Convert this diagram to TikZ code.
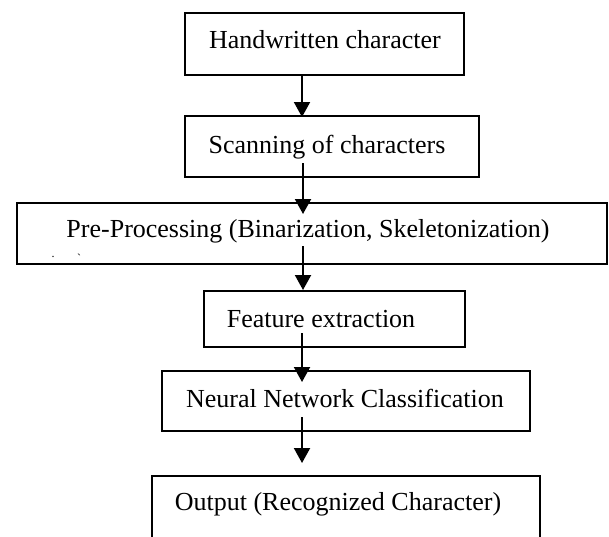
\documentclass[tikz,border=0pt]{standalone}
\usepackage{fontspec}
\setmainfont{Liberation Serif}
\usetikzlibrary{arrows.meta}
\tikzset{
  box/.style={draw=black, line width=1.6pt, rectangle, inner sep=0pt},
  lbl/.style={anchor=base, inner sep=0pt, font=\fontsize{26}{30}\selectfont},
  flow/.style={line width=2pt, -{Triangle[length=15pt,width=16pt]}},
  speck/.style={anchor=base, inner sep=0pt, font=\fontsize{12}{14}\selectfont}
}
\begin{document}
\begin{tikzpicture}[x=1pt,y=-1pt]
\useasboundingbox (0,0) rectangle (609,536);
\clip (0,0) rectangle (609,536);
\fill[white] (0,0) rectangle (609,536);
% boxes
\node[box, minimum width=279pt, minimum height=62pt] (b1) at (324.5,44) {};
\node[box, minimum width=294pt, minimum height=61pt] (b2) at (332,146.5) {};
\node[box, minimum width=590pt, minimum height=61pt] (b3) at (312,233.5) {};
\node[box, minimum width=261pt, minimum height=56pt] (b4) at (334.5,319) {};
\node[box, minimum width=368pt, minimum height=60pt] (b5) at (346,401) {};
\node[box, minimum width=388pt, minimum height=74pt] (b6) at (346,513) {};
% texts
\node[lbl] (t1) at (325,48) {Handwritten character};
\node[lbl] (t2) at (327,153) {Scanning of characters};
\node[lbl] (t3) at (308,237) {Pre-Processing (Binarization, Skeletonization)};
\node[lbl] (t4) at (321,327) {Feature extraction};
\node[lbl] (t5) at (345,407) {Neural Network Classification};
\node[lbl] (t6) at (338,510) {Output (Recognized Character)};
\node[speck] (s1) at (53,257) {.};
\node[speck] (s2) at (79,262) {\textasciigrave};
% arrow coordinates
\coordinate (a1s) at (302,75);  \coordinate (a1e) at (302,117);
\coordinate (a2s) at (303,163); \coordinate (a2e) at (303,214);
\coordinate (a3s) at (303,246); \coordinate (a3e) at (303,290);
\coordinate (a4s) at (302,333); \coordinate (a4e) at (302,382);
\coordinate (a5s) at (302,417); \coordinate (a5e) at (302,463);
\draw[flow] (a1s) -- (a1e);
\draw[flow] (a2s) -- (a2e);
\draw[flow] (a3s) -- (a3e);
\draw[flow] (a4s) -- (a4e);
\draw[flow] (a5s) -- (a5e);
\end{tikzpicture}
\end{document}
